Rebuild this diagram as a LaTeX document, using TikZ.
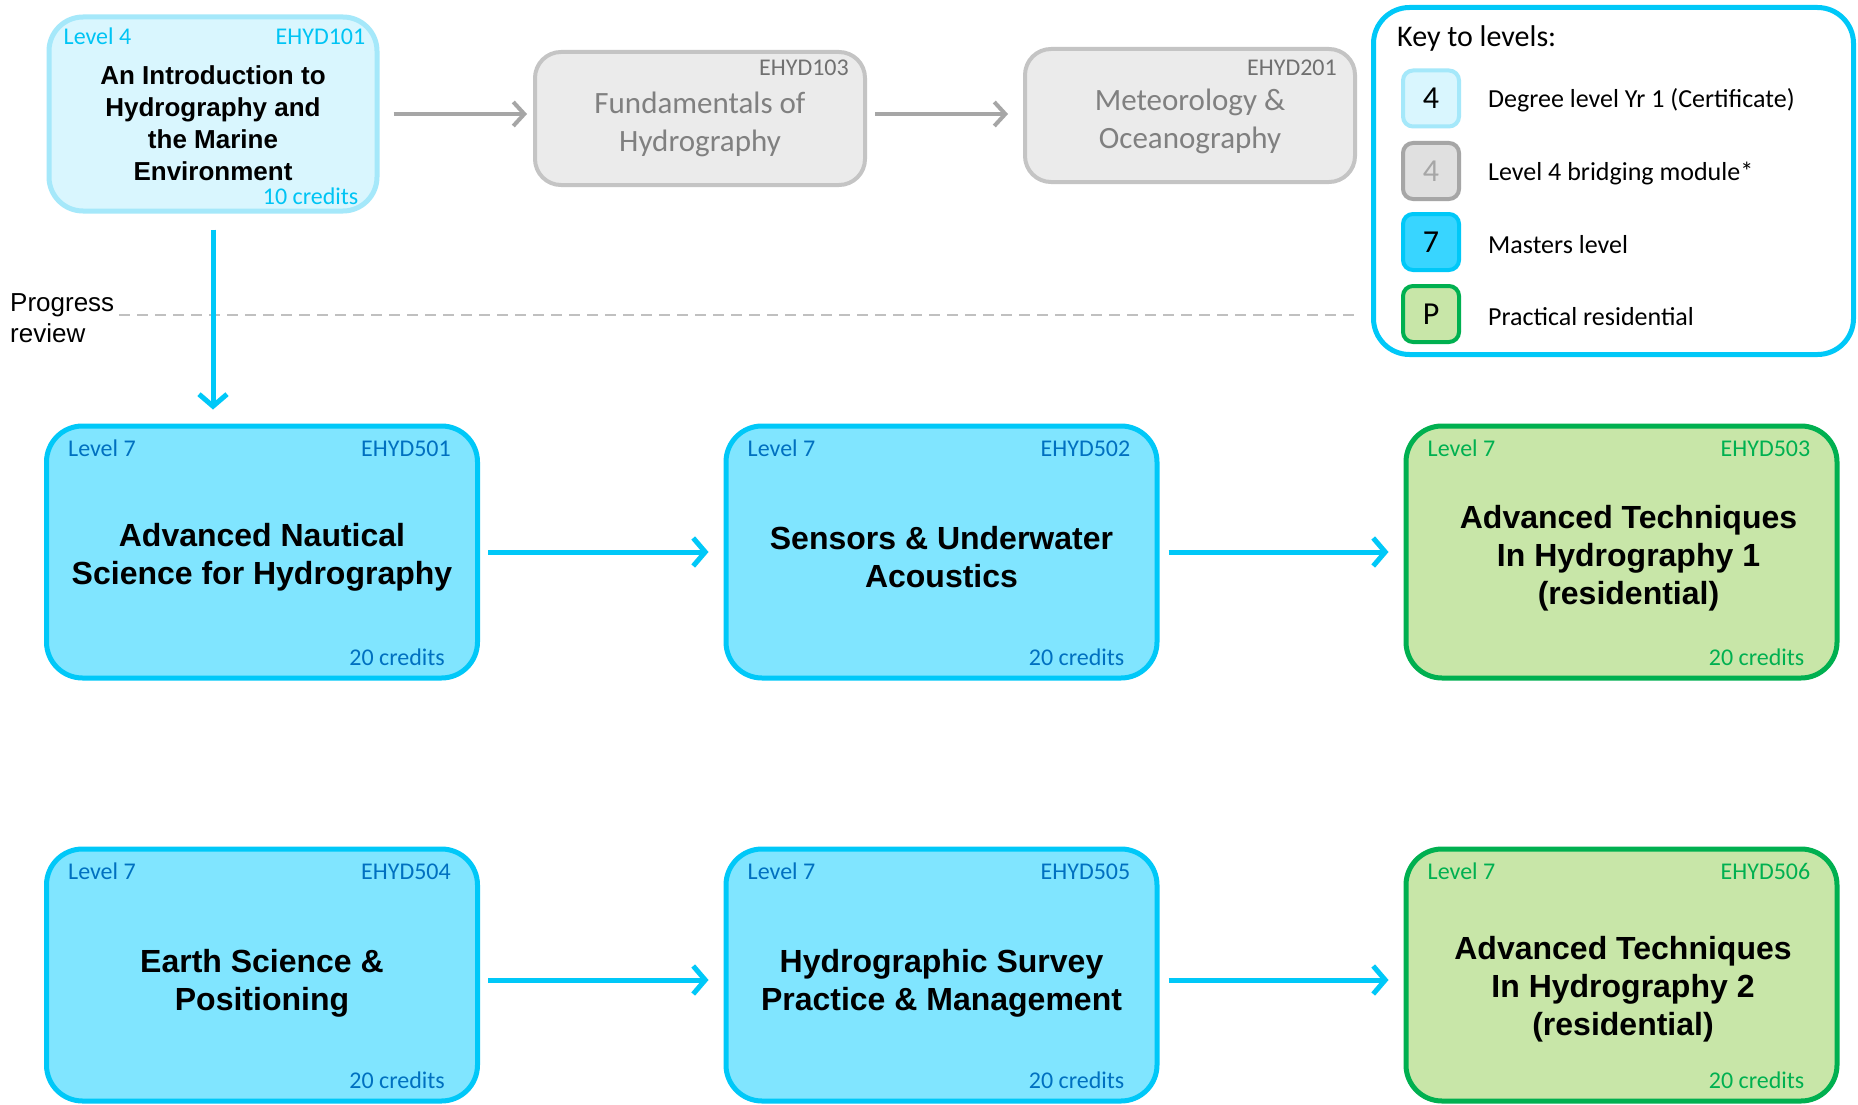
\documentclass[tikz,border=0pt]{standalone}
\usepackage{fontspec}
\setmainfont{Carlito}
\newfontfamily\arialfont{Liberation Sans}
\usetikzlibrary{arrows.meta,calc}
\definecolor{cyanline}{HTML}{00C8F8}
\definecolor{lsevenfill}{HTML}{80E5FF}
\definecolor{lseventext}{HTML}{0070C0}
\definecolor{lfourfill}{HTML}{D9F6FE}
\definecolor{lfourline}{HTML}{A5E8FA}
\definecolor{lfourtext}{HTML}{00C4F4}
\definecolor{greenfill}{HTML}{C8E6A8}
\definecolor{greenline}{HTML}{00B050}
\definecolor{grayfill}{HTML}{EBEBEB}
\definecolor{grayline}{HTML}{C4C4C4}
\definecolor{graytitle}{HTML}{808080}
\definecolor{graycode}{HTML}{707070}
\definecolor{grayarrowc}{HTML}{A6A6A6}
\definecolor{dashc}{HTML}{C0C0C0}
\definecolor{keysevenfill}{HTML}{38D5FF}
\definecolor{keygrayfill}{HTML}{E0E0E0}
\definecolor{keygrayline}{HTML}{A6A6A6}
\begin{document}
\begin{tikzpicture}[x=1pt,y=-1pt,
  rowbox/.style={rectangle, rounded corners=36pt, line width=5pt, inner sep=0pt,
    minimum width=431pt, minimum height=252pt},
  sevenbox/.style={rowbox, draw=cyanline, fill=lsevenfill},
  greenbox/.style={rowbox, draw=greenline, fill=greenfill},
  graybox/.style={rectangle, rounded corners=26pt, line width=4pt, draw=grayline, fill=grayfill,
    inner sep=0pt, minimum width=330pt, minimum height=133pt},
  fourbox/.style={rectangle, rounded corners=34pt, line width=5pt, draw=lfourline, fill=lfourfill,
    inner sep=0pt, minimum width=328pt, minimum height=194pt},
  lbl/.style={inner sep=0pt, font=\fontsize{24}{28}\selectfont},
  lblseven/.style={lbl, text=lseventext},
  lblgreen/.style={lbl, text=greenline},
  lblfour/.style={lbl, text=lfourtext},
  lblgray/.style={lbl, text=graycode},
  rowtitle/.style={align=center, inner sep=0pt, font=\arialfont\bfseries\fontsize{32}{38}\selectfont},
  fourtitle/.style={align=center, inner sep=0pt, font=\arialfont\bfseries\fontsize{26}{32}\selectfont},
  graytitlestyle/.style={align=center, inner sep=0pt, text=graytitle, font=\fontsize{31}{38}\selectfont},
  bluearrow/.style={draw=cyanline, line width=5pt, -{Straight Barb[length=12pt, width=28pt, line width=5pt]}},
  grayarrow/.style={draw=grayarrowc, line width=4pt, -{Straight Barb[length=11pt, width=24pt, line width=4pt]}},
  dashline/.style={draw=dashc, line width=2.5pt, dash pattern=on 11pt off 7pt},
  keybox/.style={rectangle, rounded corners=36pt, line width=5pt, draw=cyanline, fill=white,
    inner sep=0pt, minimum width=480pt, minimum height=347pt},
  keysq/.style={rectangle, rounded corners=10pt, line width=4pt, inner sep=0pt,
    minimum width=56pt, minimum height=56pt, font=\fontsize{32}{36}\selectfont},
  keytext/.style={anchor=west, inner sep=0pt, font=\fontsize{26}{30}\selectfont}
]
\fill[white] (0,0) rectangle (1858,1105);
\useasboundingbox (0,0) rectangle (1858,1105);

% progress review line
\coordinate (d1) at (119,315);
\coordinate (d2) at (1357,315);
\draw[dashline] (d1) -- (d2);
\node[anchor=west, align=left, inner sep=0pt, font=\arialfont\fontsize{26}{31}\selectfont] (pr) at (10,318) {Progress\\review};

% top row
\node[fourbox] (b101) at (213,114) {};
\node[lblfour, anchor=west] (b101lv) at ([shift={(17pt,-22pt)}]b101.north west) {Level 4};
\node[lblfour, anchor=east] (b101cd) at ([shift={(-14pt,-22pt)}]b101.north east) {EHYD101};
\node[lblfour, anchor=east] (b101cr) at ([shift={(-21pt,17pt)}]b101.south east) {10 credits};
\node[fourtitle] (b101t) at ([yshift=-9pt]b101.center) {An Introduction to\\Hydrography and\\the Marine\\Environment};

\node[graybox] (b103) at (700,118.5) {};
\node[lblgray, anchor=east] (b103cd) at ([shift={(-18pt,-18pt)}]b103.north east) {EHYD103};
\node[graytitlestyle] (b103t) at ([yshift=-5.5pt]b103.center) {Fundamentals of\\Hydrography};

\node[graybox] (b201) at (1190,115.5) {};
\node[lblgray, anchor=east] (b201cd) at ([shift={(-20pt,-21pt)}]b201.north east) {EHYD201};
\node[graytitlestyle] (b201t) at ([yshift=-5.5pt]b201.center) {Meteorology \&\\Oceanography};

\draw[grayarrow] ([xshift=14pt]b101.east) -- ([xshift=-6pt]b103.west |- b101.east);
\draw[grayarrow] ([xshift=8pt]b103.east |- b101.east) -- ([xshift=-15pt]b201.west |- b101.east);

% key
\node[keybox] (key) at (1613.5,181) {};
\node[anchor=west, inner sep=0pt, font=\fontsize{30}{34}\selectfont] (keyt) at (1397,38.5) {Key to levels:};
\node[keysq, draw=lfourline, fill=lfourfill] (k1) at (1431,98.5) {4};
\node[keysq, draw=keygrayline, fill=keygrayfill, text=keygrayline] (k2) at (1431,171) {4};
\node[keysq, draw=cyanline, fill=keysevenfill] (k3) at (1431,242) {7};
\node[keysq, draw=greenline, fill=greenfill] (k4) at (1431,314) {P};
\node[keytext] (kt1) at (1488,100.5) {Degree level Yr 1 (Certificate)};
\node[keytext] (kt2) at (1488,173.5) {Level 4 bridging module*};
\node[keytext] (kt3) at (1488,244.5) {Masters level};
\node[keytext] (kt4) at (1488,316.5) {Practical residential};

% row 2
\node[sevenbox] (r1) at (262,552) {};
\node[sevenbox] (r2) at (941.5,552) {};
\node[greenbox] (r3) at (1621.5,552) {};
\node[lblseven, anchor=west] (r1lv) at ([shift={(24pt,-25pt)}]r1.north west) {Level 7};
\node[lblseven, anchor=east] (r1cd) at ([shift={(-29pt,-25pt)}]r1.north east) {EHYD501};
\node[lblseven, anchor=east] (r1cr) at ([shift={(-35pt,23pt)}]r1.south east) {20 credits};
\node[rowtitle] (r1t) at ([yshift=-5.5pt]r1.center) {Advanced Nautical\\Science for Hydrography};
\node[lblseven, anchor=west] (r2lv) at ([shift={(24pt,-25pt)}]r2.north west) {Level 7};
\node[lblseven, anchor=east] (r2cd) at ([shift={(-29pt,-25pt)}]r2.north east) {EHYD502};
\node[lblseven, anchor=east] (r2cr) at ([shift={(-35pt,23pt)}]r2.south east) {20 credits};
\node[rowtitle] (r2t) at ([yshift=-5.5pt]r2.center) {Sensors \& Underwater\\Acoustics};
\node[lblgreen, anchor=west] (r3lv) at ([shift={(24pt,-25pt)}]r3.north west) {Level 7};
\node[lblgreen, anchor=east] (r3cd) at ([shift={(-29pt,-25pt)}]r3.north east) {EHYD503};
\node[lblgreen, anchor=east] (r3cr) at ([shift={(-35pt,23pt)}]r3.south east) {20 credits};
\node[rowtitle] (r3t) at ([shift={(7pt,-6.5pt)}]r3.center) {Advanced Techniques\\In Hydrography 1\\(residential)};

% row 3
\node[sevenbox] (s1) at (262,975) {};
\node[sevenbox] (s2) at (941.5,975) {};
\node[greenbox] (s3) at (1621.5,975) {};
\node[lblseven, anchor=west] (s1lv) at ([shift={(24pt,-25pt)}]s1.north west) {Level 7};
\node[lblseven, anchor=east] (s1cd) at ([shift={(-29pt,-25pt)}]s1.north east) {EHYD504};
\node[lblseven, anchor=east] (s1cr) at ([shift={(-35pt,23pt)}]s1.south east) {20 credits};
\node[rowtitle] (s1t) at ([yshift=-8.5pt]s1.center) {Earth Science \&\\Positioning};
\node[lblseven, anchor=west] (s2lv) at ([shift={(24pt,-25pt)}]s2.north west) {Level 7};
\node[lblseven, anchor=east] (s2cd) at ([shift={(-29pt,-25pt)}]s2.north east) {EHYD505};
\node[lblseven, anchor=east] (s2cr) at ([shift={(-35pt,23pt)}]s2.south east) {20 credits};
\node[rowtitle] (s2t) at ([yshift=-8.5pt]s2.center) {Hydrographic Survey\\Practice \& Management};
\node[lblgreen, anchor=west] (s3lv) at ([shift={(24pt,-25pt)}]s3.north west) {Level 7};
\node[lblgreen, anchor=east] (s3cd) at ([shift={(-29pt,-25pt)}]s3.north east) {EHYD506};
\node[lblgreen, anchor=east] (s3cr) at ([shift={(-35pt,23pt)}]s3.south east) {20 credits};
\node[rowtitle] (s3t) at ([shift={(1.5pt,-14.5pt)}]s3.center) {Advanced Techniques\\In Hydrography 2\\(residential)};

% arrows
\draw[bluearrow] ([yshift=-16pt]b101.south) -- ([yshift=14pt]b101.south |- r1.north);
\draw[bluearrow] ([xshift=8pt]r1.east) -- ([xshift=-15pt]r2.west);
\draw[bluearrow] ([xshift=9pt]r2.east) -- ([xshift=-15pt]r3.west);
\draw[bluearrow] ([shift={(8pt,-5pt)}]s1.east) -- ([shift={(-15pt,-5pt)}]s2.west);
\draw[bluearrow] ([shift={(9pt,-5pt)}]s2.east) -- ([shift={(-15pt,-5pt)}]s3.west);
\end{tikzpicture}
\end{document}
